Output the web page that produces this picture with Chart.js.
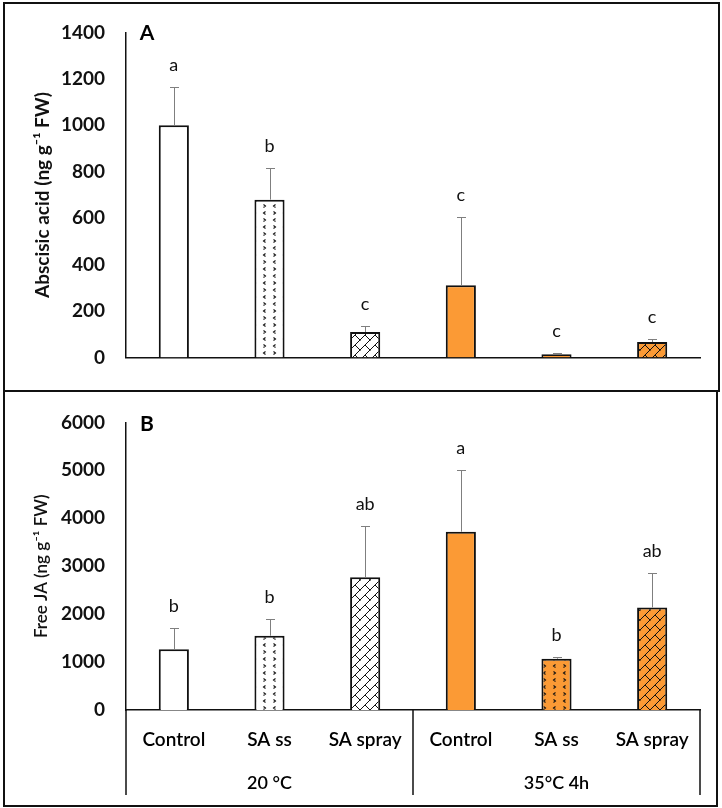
<!DOCTYPE html>
<html>
<head>
<meta charset="utf-8">
<script src="https://cdn.jsdelivr.net/npm/chart.js@4.4.1/dist/chart.umd.min.js"></script>
<style>
  html, body { margin: 0; padding: 0; background: #fff; }
  body { width: 722px; height: 808px; position: relative; overflow: hidden; }
  .wrap { position: absolute; left: 0; width: 722px; }
  #topWrap { top: 0; height: 390px; }
  #botWrap { top: 390px; height: 418px; }
  .frame { position: absolute; border: 2px solid #111; pointer-events: none; box-sizing: border-box; }
</style>
</head>
<body>
<div class="wrap" id="topWrap"><canvas id="topChart" width="722" height="390"></canvas></div>
<div class="wrap" id="botWrap"><canvas id="botChart" width="722" height="418"></canvas></div>
<div class="frame" style="left:3px; top:2px; width:717px; height:390px;"></div>
<div class="frame" style="left:3px; top:390px; width:715px; height:417px;"></div>
<script>
// ---------- data ----------
const categories = ['Control', 'SA ss', 'SA spray', 'Control', 'SA ss', 'SA spray'];
const groups = ['20 °C', '35°C 4h'];
const groupIndex = [0, 0, 0, 1, 1, 1];

const abaMeans = [1000, 680, 110, 312, 14, 67];
const abaErr = [165, 135, 25, 294, 7, 13];
const abaLetters = ['a', 'b', 'c', 'c', 'c', 'c'];
const abaTicks = [0, 200, 400, 600, 800, 1000, 1200, 1400];

const jaMeans = [1265, 1550, 2770, 3720, 1070, 2140];
const jaErr = [445, 340, 1070, 1290, 35, 710];
const jaLetters = ['b', 'b', 'ab', 'a', 'b', 'ab'];
const jaTicks = [0, 1000, 2000, 3000, 4000, 5000, 6000];

// ---------- styles ----------
const ORANGE = '#FB9A35';
const FONT = "Lato, 'Open Sans', sans-serif";

function makePattern(kind, bg) {
  const c = document.createElement('canvas');
  const g = c.getContext('2d');
  if (kind === 'divot') {
    c.width = 20; c.height = 14;
    g.fillStyle = bg; g.fillRect(0, 0, 20, 14);
    g.strokeStyle = '#111'; g.lineWidth = 1.1;
    const lt = (x, y) => { g.moveTo(x + 2, y); g.lineTo(x, y + 1.5); g.lineTo(x + 2, y + 3); };
    const gt = (x, y) => { g.moveTo(x, y); g.lineTo(x + 2, y + 1.5); g.lineTo(x, y + 3); };
    g.beginPath();
    lt(3.5, 1.5); gt(13.5, 1.5);
    gt(3.5, 8.5); lt(13.5, 8.5);
    g.stroke();
  } else {
    const s = 10;
    c.width = s; c.height = s;
    g.fillStyle = bg; g.fillRect(0, 0, s, s);
    g.strokeStyle = '#111'; g.lineWidth = 1;
    g.beginPath();
    g.moveTo(-1, 11); g.lineTo(11, -1);
    g.moveTo(5, 5); g.lineTo(10, 10);
    g.moveTo(-1, -1); g.lineTo(0.5, 0.5);
    g.stroke();
  }
  return g.createPattern(c, 'repeat');
}
const fills = [
  '#ffffff', makePattern('divot', '#ffffff'), makePattern('brick', '#ffffff'),
  ORANGE, makePattern('divot', ORANGE), makePattern('brick', ORANGE)
];

// ---------- plugins ----------
const errorBars = {
  id: 'errorBars',
  afterDatasetsDraw(chart, args, opts) {
    const { ctx } = chart;
    const meta = chart.getDatasetMeta(0);
    const y = chart.scales.y;
    const means = opts.means, errs = opts.errs, letters = opts.letters;
    ctx.save();
    meta.data.forEach((bar, i) => {
      const x = bar.x;
      const yTop = y.getPixelForValue(means[i] + errs[i]);
      const yMean = y.getPixelForValue(means[i]);
      ctx.strokeStyle = '#7f7f7f';
      ctx.lineWidth = 1;
      ctx.beginPath();
      ctx.moveTo(Math.round(x) + 0.5, yMean);
      ctx.lineTo(Math.round(x) + 0.5, Math.round(yTop) + 0.5);
      ctx.moveTo(Math.round(x) - 4, Math.round(yTop) + 0.5);
      ctx.lineTo(Math.round(x) + 5, Math.round(yTop) + 0.5);
      ctx.stroke();
      ctx.fillStyle = '#111';
      ctx.font = "18px " + FONT;
      ctx.textAlign = 'center';
      ctx.textBaseline = 'alphabetic';
      ctx.fillText(letters[i], x, yTop - 16);
    });
    ctx.fillStyle = '#000';
    ctx.font = "bold 21px " + FONT;
    ctx.textAlign = 'center';
    ctx.textBaseline = 'middle';
    ctx.fillText(opts.panel, 147, opts.panelY);
    ctx.restore();
  }
};

const groupAxis = {
  id: 'groupAxis',
  afterDraw(chart, args, opts) {
    if (!opts.enabled) return;
    const { ctx, chartArea } = chart;
    const x = chart.scales.x;
    const yAxis = chartArea.bottom;
    const yEnd = 405;
    ctx.save();
    ctx.strokeStyle = '#111';
    ctx.lineWidth = 1.5;
    const bounds = [chartArea.left, (x.getPixelForValue(2) + x.getPixelForValue(3)) / 2, chartArea.right];
    ctx.beginPath();
    bounds.forEach(b => { ctx.moveTo(b, yAxis); ctx.lineTo(b, yEnd); });
    ctx.stroke();
    ctx.fillStyle = '#000';
    ctx.font = "600 18px " + FONT;
    ctx.textAlign = 'center';
    ctx.textBaseline = 'middle';
    groups.forEach((gname, gi) => {
      const idx = groupIndex.map((v, i) => v === gi ? i : -1).filter(i => i >= 0);
      const cx = (x.getPixelForValue(idx[0]) + x.getPixelForValue(idx[idx.length - 1])) / 2;
      ctx.fillText(gname, cx, 393);
    });
    ctx.restore();
  }
};

function makeChart(canvasId, cfg) {
  return new Chart(document.getElementById(canvasId), {
    type: 'bar',
    data: {
      labels: categories,
      datasets: [{
        data: cfg.means,
        backgroundColor: fills,
        borderColor: '#111',
        borderWidth: 2,
        borderSkipped: 'bottom',
        categoryPercentage: 1,
        barPercentage: 0.315
      }]
    },
    options: {
      responsive: false,
      animation: false,
      devicePixelRatio: 1,
      layout: { padding: { top: cfg.padTop, right: 22, bottom: 0, left: 0 } },
      plugins: {
        legend: { display: false },
        tooltip: { enabled: false },
        errorBars: { means: cfg.means, errs: cfg.errs, letters: cfg.letters, panel: cfg.panel, panelY: cfg.panelY },
        groupAxis: { enabled: cfg.showX }
      },
      scales: {
        x: {
          grid: { display: false, drawTicks: false },
          border: { display: true, color: '#111', width: 1.5 },
          ticks: {
            display: cfg.showX,
            color: '#000',
            padding: 18,
            maxRotation: 0,
            autoSkip: false,
            font: { family: FONT, size: 19, weight: '600' }
          },
          afterFit(s) { s.height = cfg.xHeight; }
        },
        y: {
          min: 0,
          max: cfg.ticks[cfg.ticks.length - 1],
          afterBuildTicks(s) { s.ticks = cfg.ticks.map(v => ({ value: v })); },
          grid: { display: false, drawTicks: false },
          border: { display: true, color: '#111', width: 1.5 },
          ticks: {
            color: '#111',
            padding: 21,
            font: { family: FONT, size: 19, weight: 'bold' },
            callback: v => String(v)
          },
          title: {
            display: true,
            text: cfg.title,
            color: '#111',
            font: { family: FONT, size: cfg.titleSize, weight: cfg.titleWeight },
            padding: { top: cfg.titlePad, bottom: 0 }
          },
          afterFit(s) { s.width = 126; }
        }
      }
    },
    plugins: [errorBars, groupAxis]
  });
}

makeChart('topChart', {
  means: abaMeans, errs: abaErr, letters: abaLetters, ticks: abaTicks,
  title: 'Abscisic acid (ng g⁻¹ FW)', titleSize: 19, titleWeight: 'bold', titlePad: 31,
  panel: 'A', panelY: 33, padTop: 25, xHeight: 11, showX: false
});
makeChart('botChart', {
  means: jaMeans, errs: jaErr, letters: jaLetters, ticks: jaTicks,
  title: 'Free JA (ng g⁻¹ FW)', titleSize: 17, titleWeight: '600', titlePad: 31,
  panel: 'B', panelY: 34, padTop: 24, xHeight: 98, showX: true
});
</script>
</body>
</html>
